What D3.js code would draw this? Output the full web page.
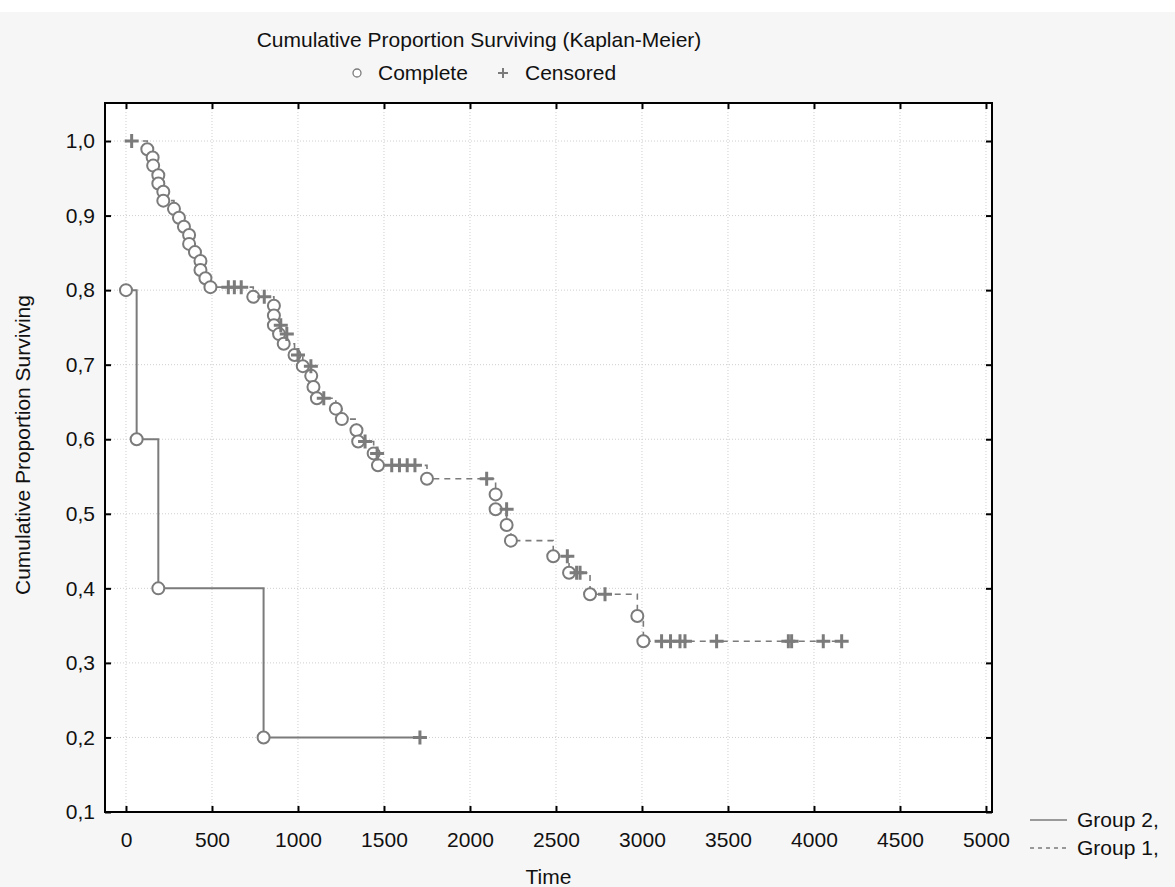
<!DOCTYPE html>
<html>
<head>
<meta charset="utf-8">
<script src="https://cdn.jsdelivr.net/npm/d3@7"></script>
<style>
body { margin:0; background:#fff; }
text { font-family: "Liberation Sans", Arial, sans-serif; fill:#111; }
</style>
</head>
<body>
<div id="chart"></div>
<script>
// Kaplan-Meier data
// group 1 (dashed): time, surviving proportion, censored flag (1 = censored)
var g1Time = [33, 124, 155, 158, 188, 188, 217, 217, 279, 308, 337, 367, 367, 401, 433, 433, 462, 491,
  595, 630, 670, 740, 804, 860, 860, 860, 900, 890, 935, 917, 980, 1000, 1028, 1075, 1077, 1090, 1110, 1150,
  1220, 1255, 1340, 1350, 1390, 1440, 1460, 1465, 1545, 1590, 1635, 1680, 1750, 2097, 2149, 2149, 2213,
  2213, 2238, 2484, 2566, 2576, 2620, 2640, 2698, 2785, 2973, 3008, 3114, 3166, 3221, 3250, 3434, 3851,
  3870, 4054, 4161];
var g1Surv = [1.000, 0.989, 0.978, 0.967, 0.954, 0.943, 0.932, 0.920, 0.909, 0.897, 0.885, 0.874, 0.862, 0.851, 0.839, 0.827, 0.816, 0.804,
  0.804, 0.804, 0.804, 0.791, 0.791, 0.779, 0.766, 0.753, 0.753, 0.741, 0.741, 0.728, 0.713, 0.713, 0.698, 0.698, 0.685, 0.670, 0.655, 0.655,
  0.641, 0.627, 0.612, 0.597, 0.597, 0.581, 0.581, 0.565, 0.565, 0.565, 0.565, 0.565, 0.547, 0.547, 0.526, 0.506, 0.506,
  0.485, 0.464, 0.443, 0.443, 0.421, 0.421, 0.421, 0.392, 0.392, 0.363, 0.329, 0.329, 0.329, 0.329, 0.329, 0.329, 0.329,
  0.329, 0.329, 0.329];
var g1Cens = [1, 0, 0, 0, 0, 0, 0, 0, 0, 0, 0, 0, 0, 0, 0, 0, 0, 0,
  1, 1, 1, 0, 1, 0, 0, 0, 1, 0, 1, 0, 0, 1, 0, 1, 0, 0, 0, 1,
  0, 0, 0, 0, 1, 0, 1, 0, 1, 1, 1, 1, 0, 1, 0, 0, 1,
  0, 0, 0, 1, 0, 1, 1, 0, 1, 0, 0, 1, 1, 1, 1, 1, 1,
  1, 1, 1];

// group 2 (solid)
var g2Time = [0, 62, 188, 800, 1709];
var g2Surv = [0.8, 0.6, 0.4, 0.2, 0.2];
var g2Cens = [0, 0, 0, 0, 1];

var xTicks = [0, 500, 1000, 1500, 2000, 2500, 3000, 3500, 4000, 4500, 5000];
var yTicks = [0.1, 0.2, 0.3, 0.4, 0.5, 0.6, 0.7, 0.8, 0.9, 1.0];
var groupNames = ["Group 2,", "Group 1,"];

var w = 1175, h = 887;
// plot frame (don't call it "top", that's window.top)
var pLeft = 105, pRight = 992, pTop = 103, pBottom = 812;
var grey = "#7b7b7b";
var fs = 21;

var svg = d3.select("#chart")
  .append("svg")
  .attr("width", w)
  .attr("height", h);

// background panel
svg.append("rect").attr("width", w).attr("height", h).attr("fill", "#fff");
svg.append("rect").attr("y", 12).attr("width", w).attr("height", h - 12).attr("fill", "#f6f6f6");
svg.append("rect").attr("x", pLeft).attr("y", pTop)
  .attr("width", pRight - pLeft).attr("height", pBottom - pTop).attr("fill", "#fff");

var x = d3.scaleLinear().domain([-122, 5035]).range([pLeft, pRight]);
var y = d3.scaleLinear().domain([0.1, 1.051]).range([pBottom, pTop]);

var comma = function(d){ return d3.format(".1f")(d).replace(".", ","); };

// grid
svg.append("g").selectAll("line").data(xTicks).join("line")
  .attr("x1", d => x(d)).attr("x2", d => x(d))
  .attr("y1", pTop).attr("y2", pBottom)
  .attr("stroke", "#cfcfcf").attr("stroke-dasharray", "1,2");
svg.append("g").selectAll("line").data(yTicks).join("line")
  .attr("x1", pLeft).attr("x2", pRight)
  .attr("y1", d => y(d)).attr("y2", d => y(d))
  .attr("stroke", "#cfcfcf").attr("stroke-dasharray", "1,2");

// axes, ticks pointing inward
var xAxis = svg.append("g").attr("transform", "translate(0," + pBottom + ")")
  .call(d3.axisBottom(x).tickValues(xTicks).tickSizeInner(-6).tickSizeOuter(0).tickPadding(20).tickFormat(d3.format("d")));
var xTop = svg.append("g").attr("transform", "translate(0," + pTop + ")")
  .call(d3.axisTop(x).tickValues(xTicks).tickSizeInner(-6).tickSizeOuter(0).tickFormat(""));
var yAxis = svg.append("g").attr("transform", "translate(" + pLeft + ",0)")
  .call(d3.axisLeft(y).tickValues(yTicks).tickSizeInner(-6).tickSizeOuter(0).tickPadding(10).tickFormat(comma));
var yRight = svg.append("g").attr("transform", "translate(" + pRight + ",0)")
  .call(d3.axisRight(y).tickValues(yTicks).tickSizeInner(-6).tickSizeOuter(0).tickFormat(""));

[xAxis, xTop, yAxis, yRight].forEach(function(a){
  a.select(".domain").remove();
  a.selectAll(".tick line").attr("stroke", "#000").attr("stroke-width", 2);
  a.selectAll("text").attr("font-size", fs).attr("fill", "#111")
    .attr("font-family", "Liberation Sans, Arial, sans-serif");
});

// frame
svg.append("rect").attr("x", pLeft).attr("y", pTop)
  .attr("width", pRight - pLeft).attr("height", pBottom - pTop)
  .attr("fill", "none").attr("stroke", "#000").attr("stroke-width", 2);

// step lines
var step = d3.line().x(d => x(d[0])).y(d => y(d[1])).curve(d3.curveStepAfter);
var g1 = d3.zip(g1Time, g1Surv, g1Cens);
var g2 = d3.zip(g2Time, g2Surv, g2Cens);

svg.append("path").datum(g1).attr("d", step)
  .attr("fill", "none").attr("stroke", grey).attr("stroke-width", 1.6).attr("stroke-dasharray", "6,5");
svg.append("path").datum(g2).attr("d", step)
  .attr("fill", "none").attr("stroke", grey).attr("stroke-width", 2);

function drawMarks(data){
  var g = svg.append("g");
  g.selectAll("circle").data(data.filter(d => d[2] == 0)).join("circle")
    .attr("cx", d => x(d[0])).attr("cy", d => y(d[1])).attr("r", 6)
    .attr("fill", "#fff").attr("stroke", grey).attr("stroke-width", 2);
  g.selectAll("path").data(data.filter(d => d[2] == 1)).join("path")
    .attr("d", function(d){
      var cx = x(d[0]), cy = y(d[1]);
      return "M" + (cx - 7) + "," + cy + "H" + (cx + 7) + "M" + cx + "," + (cy - 7) + "V" + (cy + 7);
    })
    .attr("stroke", grey).attr("stroke-width", 3);
}
drawMarks(g1);
drawMarks(g2);

// title & marker legend
svg.append("text").attr("x", 479).attr("y", 47).attr("text-anchor", "middle")
  .attr("font-size", fs).text("Cumulative Proportion Surviving (Kaplan-Meier)");
svg.append("circle").attr("cx", 357).attr("cy", 73).attr("r", 4)
  .attr("fill", "#fff").attr("stroke", grey).attr("stroke-width", 1.3);
svg.append("text").attr("x", 378).attr("y", 80).attr("font-size", fs).text("Complete");
svg.append("path").attr("d", "M498,73H508M503,68V78").attr("stroke", grey).attr("stroke-width", 2);
svg.append("text").attr("x", 525).attr("y", 80).attr("font-size", fs).text("Censored");

// axis titles
svg.append("text").attr("transform", "translate(30,445) rotate(-90)")
  .attr("text-anchor", "middle").attr("font-size", fs).text("Cumulative Proportion Surviving");
svg.append("text").attr("x", (pLeft + pRight) / 2).attr("y", 884)
  .attr("text-anchor", "middle").attr("font-size", fs).text("Time");

// group legend
var lg = svg.append("g");
groupNames.forEach(function(n, i){
  var ly = 820 + i * 28;
  lg.append("line").attr("x1", 1030).attr("x2", 1067).attr("y1", ly).attr("y2", ly)
    .attr("stroke", grey).attr("stroke-width", 1.5)
    .attr("stroke-dasharray", i == 1 ? "4,4" : null);
  lg.append("text").attr("x", 1077).attr("y", ly + 7).attr("font-size", fs).text(n);
});
</script>
</body>
</html>
